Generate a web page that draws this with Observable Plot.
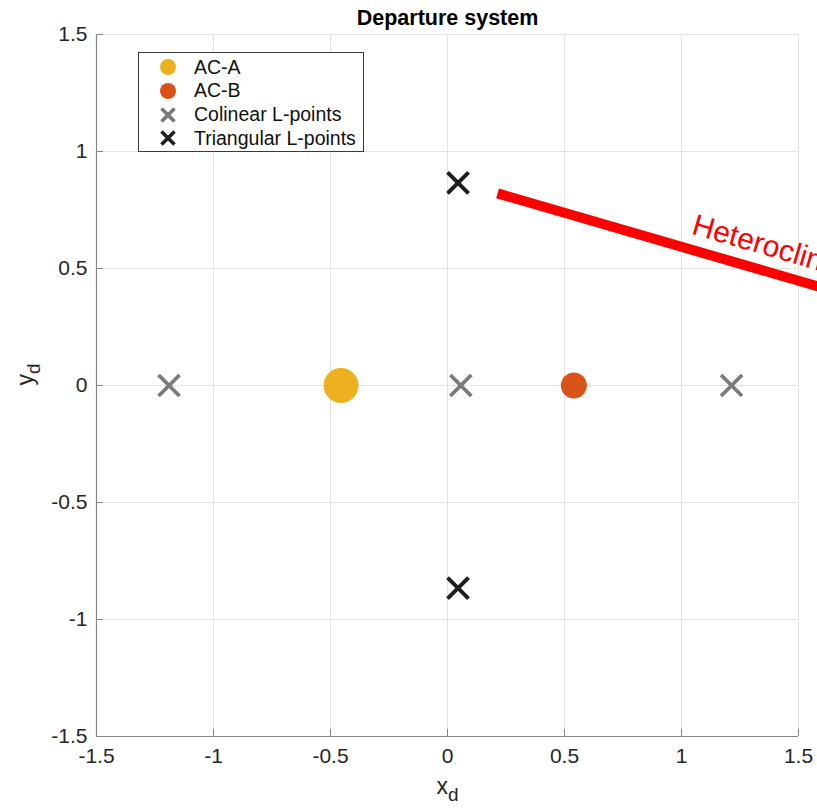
<!DOCTYPE html>
<html>
<head>
<meta charset="utf-8">
<script src="https://cdn.jsdelivr.net/npm/d3@7"></script>
<script src="https://cdn.jsdelivr.net/npm/@observablehq/plot@0.6"></script>
<style>
  html, body { margin: 0; padding: 0; background: #fff; overflow: hidden; }
  #chart { position: relative; width: 817px; height: 808px; }
  #chart svg { overflow: hidden; }
  .legend {
    position: absolute; box-sizing: border-box;
    border: 1px solid #3a3a3a; background: #fff;
    font-family: "Liberation Sans", Arial, sans-serif; font-size: 19.5px; color: #111;
  }
  .legend .row { position: absolute; left: 0; height: 24px; display: flex; align-items: center; }
  .legend svg { width: 20px; height: 20px; margin-left: 19px; margin-right: 16px; overflow: visible; }
</style>
</head>
<body>
<div id="chart"></div>
<script>
// Primary bodies of the departure system
const bodyNames = ["AC-A", "AC-B"];
const bodyX = [-0.455, 0.54];
const bodyY = [0, 0];

// Lagrange points
const colinearX = [-1.19, 0.057, 1.214];
const colinearY = [0, 0, 0];
const triangularX = [0.045, 0.045];
const triangularY = [0.866, -0.866];

// Heteroclinic connection leaving the frame
const connectionX = [0.214, 1.75];
const connectionY = [0.821, 0.375];
const connectionLabel = "Heteroclinic connection";
const connectionLabelAt = [1.038, 0.65];

// Axes
const tickValues = [-1.5, -1, -0.5, 0, 0.5, 1, 1.5];
const tickLabels = ["-1.5", "-1", "-0.5", "0", "0.5", "1", "1.5"];
const titleText = "Departure system";
const xLabel = ["x", "d"];
const yLabel = ["y", "d"];

const colors = {"AC-A": "#EDB120", "AC-B": "#D95319", colinear: "#7a7a7a", triangular: "#1e1e1e"};

const W = 817, H = 808;
const M = {top: 34, right: 19, bottom: 72, left: 96};
const innerW = W - M.left - M.right, innerH = H - M.top - M.bottom;
const tickFmt = d => tickLabels[tickValues.indexOf(d)];

const bodies = bodyNames.map((name, i) => ({name, x: bodyX[i], y: bodyY[i]}));
const colinear = colinearX.map((x, i) => ({x, y: colinearY[i]}));
const triangular = triangularX.map((x, i) => ({x, y: triangularY[i]}));
const connection = connectionX.map((x, i) => ({x, y: connectionY[i]}));

const slopeDeg = Math.atan2(-(connectionY[1] - connectionY[0]), connectionX[1] - connectionX[0]) * 180 / Math.PI;

const plot = Plot.plot({
  width: W, height: H,
  marginTop: M.top, marginRight: M.right, marginBottom: M.bottom, marginLeft: M.left,
  style: {fontFamily: "Liberation Sans, Arial, sans-serif", fontSize: "21px", color: "#262626", background: "#fff"},
  x: {domain: [-1.5, 1.5]},
  y: {domain: [-1.5, 1.5]},
  marks: [
    Plot.gridX(tickValues, {stroke: "#e3e3e3", strokeOpacity: 1}),
    Plot.gridY(tickValues, {stroke: "#e3e3e3", strokeOpacity: 1}),
    Plot.ruleX([-1.5], {stroke: "#858585", strokeWidth: 1.2}),
    Plot.ruleY([-1.5], {stroke: "#858585", strokeWidth: 1.2}),
    // inward tick marks
    Plot.ruleX(tickValues, {stroke: "#858585", insetTop: innerH - 7}),
    Plot.ruleY(tickValues, {stroke: "#858585", insetRight: innerW - 7}),
    Plot.axisX(tickValues, {tickSize: 0, tickPadding: 12, tickFormat: tickFmt, fontSize: 21, fill: "#262626", label: null}),
    Plot.axisY(tickValues, {tickSize: 0, tickPadding: 9, tickFormat: tickFmt, fontSize: 21, fill: "#262626", label: null}),
    Plot.dot(bodies.slice(0, 1), {x: "x", y: "y", r: 17.5, fill: colors["AC-A"], stroke: null}),
    Plot.dot(bodies.slice(1, 2), {x: "x", y: "y", r: 13, fill: colors["AC-B"], stroke: null}),
    Plot.dot(colinear, {x: "x", y: "y", symbol: "times", r: 9.6, stroke: colors.colinear, strokeWidth: 3.8}),
    Plot.dot(triangular, {x: "x", y: "y", symbol: "times", r: 9.6, stroke: colors.triangular, strokeWidth: 4}),
    Plot.line(connection, {x: "x", y: "y", stroke: "#ff0000", strokeWidth: 10, strokeLinecap: "butt", clip: false}),
    Plot.text([connectionLabel], {
      x: () => connectionLabelAt[0], y: () => connectionLabelAt[1], text: d => d, rotate: slopeDeg,
      textAnchor: "start", lineAnchor: "bottom", fill: "#ff0000", fontSize: 30, clip: false
    }),
    Plot.text([titleText], {frameAnchor: "top", dy: -16, text: d => d, fontWeight: "bold", fontSize: 21.5, fill: "#000", lineAnchor: "middle"}),
    Plot.text([xLabel[0]], {frameAnchor: "bottom", dy: 57, text: d => d, fontSize: 23, fill: "#262626", lineAnchor: "bottom"}),
    Plot.text([yLabel[0]], {frameAnchor: "left", dx: -64, text: d => d, fontSize: 23, fill: "#262626", rotate: -90, lineAnchor: "bottom"})
  ]
});

// subscripts on the axis labels
const subs = {[xLabel[0]]: xLabel[1], [yLabel[0]]: yLabel[1]};
d3.select(plot).selectAll("text")
  .filter(function () { return this.children.length === 0 && subs[this.textContent] !== undefined; })
  .each(function () {
    d3.select(this).append("tspan").attr("dy", "0.38em").attr("font-size", "19px").text(subs[this.textContent]);
  });

const chart = document.getElementById("chart");
chart.appendChild(plot);

// legend box
const legendItems = [
  {label: "AC-A", kind: "circle", color: colors["AC-A"]},
  {label: "AC-B", kind: "circle", color: colors["AC-B"]},
  {label: "Colinear L-points", kind: "cross", color: colors.colinear},
  {label: "Triangular L-points", kind: "cross", color: colors.triangular}
];
const legend = d3.select(chart).append("div").attr("class", "legend")
  .style("left", "138px").style("top", "52px").style("width", "226px").style("height", "100px");
legendItems.forEach((item, i) => {
  const row = legend.append("div").attr("class", "row").style("top", `${2 + i * 23.8}px`);
  const s = row.append("svg").attr("viewBox", "-10 -10 20 20");
  if (item.kind === "circle") {
    s.append("circle").attr("r", 8).attr("fill", item.color);
  } else {
    s.append("path").attr("d", "M-6.5,-6.5L6.5,6.5M-6.5,6.5L6.5,-6.5").attr("stroke", item.color).attr("stroke-width", 3.6).attr("fill", "none");
  }
  row.append("span").text(item.label);
});
</script>
</body>
</html>
